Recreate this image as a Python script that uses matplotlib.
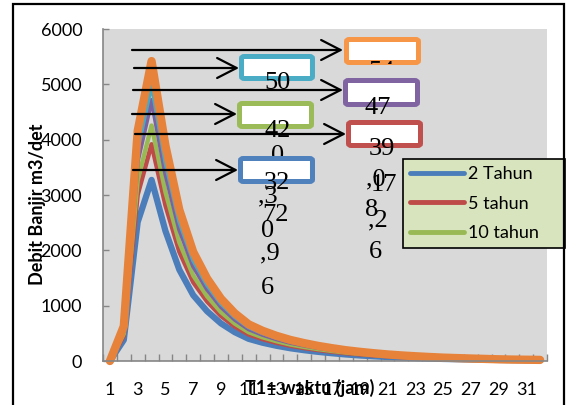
import numpy as np
import matplotlib
matplotlib.use("Agg")
import matplotlib.pyplot as plt
from matplotlib.patches import FancyBboxPatch, FancyArrowPatch, Rectangle
from matplotlib.transforms import Bbox, TransformedBbox

plt.rcParams['font.family'] = ['Lato', 'DejaVu Sans']

# jam ke- (T1 = waktu)
jam = list(range(1, 33))

q_2 = [0, 380, 2510, 3273, 2350, 1650, 1190, 900, 680, 520, 400, 330, 275, 230, 195, 165,
       140, 118, 100, 85, 72, 61, 52, 44, 37, 32, 27, 23, 19, 16, 14, 12]
q_5 = [0, 455, 3005, 3917, 2813, 1975, 1424, 1077, 814, 622, 479, 395, 329, 275, 233, 198,
       168, 141, 120, 102, 86, 73, 62, 53, 44, 38, 32, 28, 23, 19, 17, 14]
q_10 = [0, 494, 3263, 4255, 3055, 2145, 1547, 1170, 884, 676, 520, 429, 358, 299, 254, 215,
        182, 153, 130, 111, 94, 79, 68, 57, 48, 42, 35, 30, 25, 21, 18, 16]
q_25 = [0, 548, 3617, 4717, 3386, 2378, 1715, 1297, 980, 749, 576, 476, 396, 331, 281, 238,
        202, 170, 144, 122, 104, 88, 75, 63, 53, 46, 39, 33, 27, 23, 20, 17]
q_50 = [0, 581, 3840, 5008, 3596, 2525, 1821, 1377, 1040, 796, 612, 505, 421, 352, 298, 252,
        214, 181, 153, 130, 110, 93, 80, 67, 57, 49, 41, 35, 29, 24, 21, 18]
q_100 = [0, 629, 4157, 5420, 3892, 2732, 1971, 1490, 1126, 861, 662, 546, 455, 381, 323, 273,
         232, 195, 166, 141, 119, 101, 86, 73, 61, 53, 45, 38, 31, 26, 23, 20]

W, H = 567, 405


def fx(x):
    return x / W


def fy(y):
    return 1 - y / H


fig = plt.figure(figsize=(W / 100, H / 100), dpi=100)
ax = fig.add_axes([fx(103), fy(361), fx(547) - fx(103), fy(29) - fy(361)])
ax.set_facecolor('#D9D9D9')

series = [
    (q_2, '2 Tahun', '#4A7DBA', 4.5),
    (q_5, '5 tahun', '#BE4B48', 3.2),
    (q_10, '10 tahun', '#98B954', 3.2),
    (q_25, '_25 tahun', '#7D60A0', 3.2),
    (q_50, '_50 tahun', '#46AAC5', 3.2),
    (q_100, '_100 tahun', '#E6823A', 6.0),
]
for vals, lab, col, lw in series:
    ax.plot(jam, vals, color=col, lw=lw, label=lab, solid_joinstyle='round',
            solid_capstyle='round', clip_on=False)

ax.set_xlim(0.5, 32.5)
ax.set_ylim(0, 6000)
ax.set_xticks(np.arange(0.5, 33, 1))
ax.set_xticklabels([])
ax.set_xticks(jam[::2], minor=True)
ax.set_xticklabels([str(j) for j in jam[::2]], minor=True)
ax.set_yticks(range(0, 6001, 1000))
ax.tick_params(axis='x', which='major', direction='in', length=5, width=1, color='#868686')
ax.tick_params(axis='x', which='minor', length=0, pad=15, labelsize=13)
ax.tick_params(axis='y', direction='in', length=4, width=1, color='#868686', pad=15, labelsize=13)
for s in ['top', 'right']:
    ax.spines[s].set_visible(False)
for s in ['left', 'bottom']:
    ax.spines[s].set_color('#868686')
    ax.spines[s].set_linewidth(1.2)

fig.text(fx(38), fy(204), 'Debit Banjir m3/det', rotation=90, ha='center', va='center',
         fontsize=13, fontweight='bold')
fig.text(fx(310), fy(388), 'T1= waktu (jam)', ha='center', va='center',
         fontsize=13, fontweight='bold')

leg = ax.legend(loc='upper left', bbox_to_anchor=(fx(403), fy(163), fx(565) - fx(403), 0.01),
                bbox_transform=fig.transFigure, mode='expand', borderaxespad=0,
                fontsize=13, handlelength=3.0, handletextpad=0.2, labelspacing=0.75,
                borderpad=0.4, fancybox=False, framealpha=1, facecolor='#D7E4BD',
                edgecolor='black')
leg.get_frame().set_linewidth(1.2)
for ln in leg.get_lines():
    ln.set_linewidth(3.5)

# arrows to callout boxes
arrows = [(132, 50, 343), (134, 68, 239), (133, 90, 343),
          (132, 114, 237), (135, 134, 346), (133, 170, 238)]
for x0, y, x1 in arrows:
    fig.add_artist(FancyArrowPatch((fx(x0), fy(y)), (fx(x1), fy(y)), transform=fig.transFigure,
                                   arrowstyle='->,head_length=1.4,head_width=0.72',
                                   mutation_scale=10, lw=1.6, color='black',
                                   shrinkA=0, shrinkB=0, zorder=5))

serif = 'Liberation Serif'
tsize = 19

# text fragment partly hidden under the blue box
fig.text(fx(278), fy(156), '0', family=serif, fontsize=tsize, ha='center', va='center', zorder=5)

boxes = [('#F79646', 344, 37, 421, 65), ('#4BACC6', 239, 54, 315, 81),
         ('#8064A2', 343, 78, 420, 107), ('#9BBB59', 237, 101, 314, 129),
         ('#C0504D', 346, 120, 423, 148), ('#4F81BD', 238, 156, 315, 184)]
for col, x0, y0, x1, y1 in boxes:
    fig.add_artist(FancyBboxPatch((fx(x0 + 2.5), fy(y1 - 2.5)), fx(x1 - x0 - 5), fy(0) - fy(y1 - y0 - 5),
                                  boxstyle='round,pad=0,rounding_size=0.005',
                                  transform=fig.transFigure, fc='white', ec=col, lw=3.6, zorder=6))

frags = [('50', 277, 83), ('42', 278, 131), ('32', 277, 183), (',3', 268, 196),
         ('72', 275, 215), ('0', 268, 231), (',9', 270, 253), ('6', 267, 288),
         ('47', 378, 108), ('39', 382, 149), (',0', 376, 179), ('17', 384, 185),
         ('8', 372, 210), (',2', 378, 220), ('6', 375, 252)]
for s, x, y in frags:
    fig.text(fx(x), fy(y), s, family=serif, fontsize=tsize, ha='center', va='center', zorder=7)

t54 = fig.text(fx(382), fy(72), '54', family=serif, fontsize=tsize, ha='center', va='center', zorder=7)
t54.set_clip_box(TransformedBbox(Bbox.from_extents(fx(344), fy(64), fx(421), fy(37)), fig.transFigure))
t54.set_clip_on(True)

fig.add_artist(Rectangle((fx(13), fy(420)), fx(564 - 13), fy(0) - fy(420 - 4), transform=fig.transFigure,
                         fill=False, ec='black', lw=1.6, zorder=8))

fig.savefig('out.png', dpi=100)
